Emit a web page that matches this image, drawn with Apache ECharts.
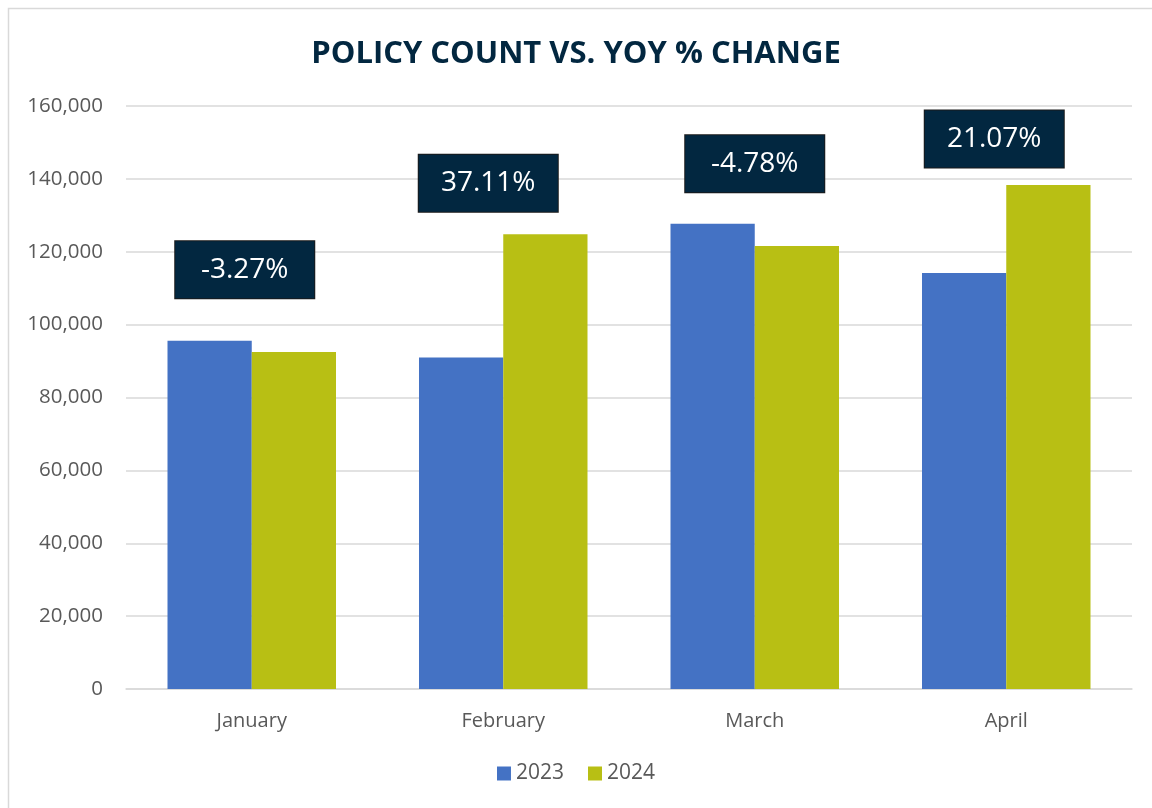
<!DOCTYPE html>
<html>
<head>
<meta charset="utf-8">
<style>
  html, body { margin: 0; padding: 0; background: #fff; }
  #chart { width: 1152px; height: 808px; }
</style>
<script src="https://cdn.jsdelivr.net/npm/echarts@6/dist/echarts.min.js"></script>
</head>
<body>
<div id="chart"></div>
<script>
  // ── Data ───────────────────────────────────────────────────────────────────
  const months = ["January", "February", "March", "April"];
  const count2023 = [95600, 91000, 127700, 114200];
  const count2024 = [92500, 124800, 121600, 138300];
  const yoyChange = ["-3.27%", "37.11%", "-4.78%", "21.07%"];

  // pixel nudges for the change boxes (hand placed in the original)
  const boxOffsets = [[-7, -71], [-15, -51], [0, -60], [-12, -46]];

  const textGrey = "#595959";
  const navy = "#022740";
  const font = "Open Sans";

  const chart = echarts.init(document.getElementById("chart"));

  const option = {
    backgroundColor: "#fff",
    textStyle: { fontFamily: font },
    title: {
      text: "POLICY COUNT VS. YOY % CHANGE",
      left: "center",
      top: 34,
      textStyle: { color: navy, fontSize: 31, fontWeight: "bold", fontFamily: font },
    },
    graphic: [
      {
        type: "rect",
        shape: { x: 8.5, y: 8.5, width: 1160, height: 820 },
        style: { fill: "none", stroke: "#d9d9d9", lineWidth: 1.5 },
        silent: true,
      },
    ],
    legend: {
      bottom: 19,
      left: "center",
      itemWidth: 14,
      itemHeight: 14,
      itemGap: 24,
      icon: "rect",
      data: ["2023", "2024"],
      textStyle: { color: textGrey, fontSize: 21, fontFamily: font },
    },
    grid: { left: 126, right: 20, top: 106, bottom: 119 },
    xAxis: {
      type: "category",
      data: months,
      axisLine: { lineStyle: { color: "#d9d9d9", width: 1.5 } },
      axisTick: { show: false },
      axisLabel: { color: textGrey, fontSize: 20, margin: 22 },
    },
    yAxis: {
      type: "value",
      min: 0,
      max: 160000,
      interval: 20000,
      axisLabel: {
        color: textGrey,
        fontSize: 20.5,
        margin: 23,
        formatter: (v) => v.toLocaleString("en-US"),
      },
      splitLine: { lineStyle: { color: "#d9d9d9", width: 1.5 } },
    },
    series: [
      {
        name: "2023",
        type: "bar",
        data: count2023,
        barGap: "0%",
        barCategoryGap: "33%",
        itemStyle: { color: "#4472C4" },
      },
      {
        name: "2024",
        type: "bar",
        data: count2024,
        itemStyle: { color: "#B8BF14" },
      },
      {
        name: "YoY",
        type: "scatter",
        symbolSize: 1,
        itemStyle: { color: "rgba(0,0,0,0)", opacity: 1 },
        silent: true,
        z: 10,
        data: months.map((m, i) => ({
          value: [m, Math.max(count2023[i], count2024[i])],
          label: { offset: boxOffsets[i] },
        })),
        label: {
          show: true,
          position: "inside",
          formatter: (p) => yoyChange[p.dataIndex],
          backgroundColor: navy,
          borderColor: "#1a1a1a",
          borderWidth: 1,
          color: "#fff",
          fontSize: 28,
          fontFamily: font,
          width: 139,
          height: 57,
          lineHeight: 57,
          align: "center",
          verticalAlign: "middle",
          padding: 0,
        },
      },
    ],
  };

  chart.setOption(option);
</script>
</body>
</html>
